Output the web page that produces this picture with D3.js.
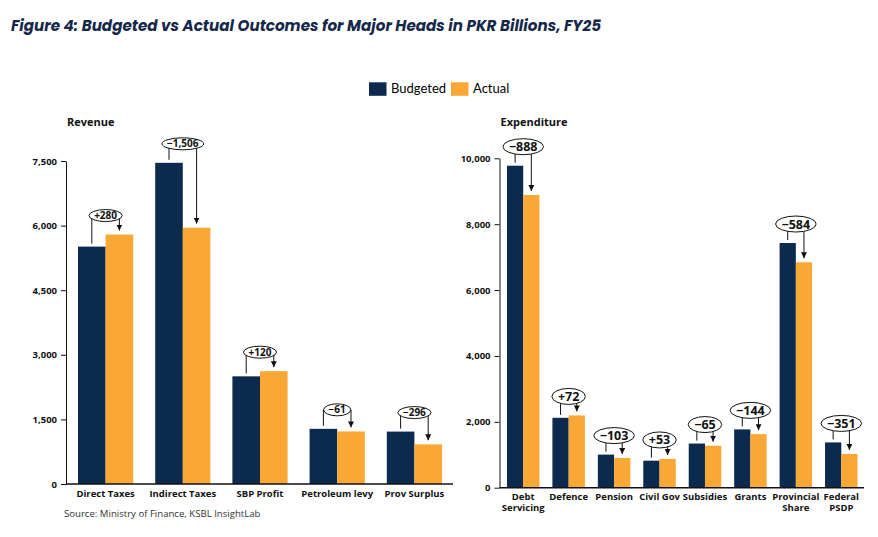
<!DOCTYPE html>
<html><head><meta charset="utf-8">
<script src="https://cdn.jsdelivr.net/npm/d3@7"></script>
<style>
body{margin:0;background:#fff;}
svg{display:block;font-family:"Open Sans",sans-serif;}
</style></head>
<body><svg id="c" width="878" height="537"></svg>
<script>
// ---- data ----
const revCategories = ["Direct Taxes","Indirect Taxes","SBP Profit","Petroleum levy","Prov Surplus"];
const revBudgeted = [5512, 7458, 2500, 1281, 1217];
const revActual   = [5792, 5952, 2620, 1220, 921];
const revTicks = [0, 1500, 3000, 4500, 6000, 7500];

const expCategories = ["Debt\nServicing","Defence","Pension","Civil Gov","Subsidies","Grants","Provincial\nShare","Federal\nPSDP"];
const expBudgeted = [9775, 2122, 1005, 820, 1340, 1770, 7428, 1375];
const expActual   = [8887, 2194, 902, 873, 1275, 1626, 6844, 1024];
const expTicks = [0, 2000, 4000, 6000, 8000, 10000];

const seriesNames = ["Budgeted","Actual"];
const colors = {Budgeted:"#0c2a4e", Actual:"#f9a836"};

const svg = d3.select("#c");
svg.append("rect").attr("width",878).attr("height",537).attr("fill","#fff");

svg.append("defs").append("marker").attr("id","arr")
  .attr("viewBox","0 0 10 10").attr("refX",10).attr("refY",5)
  .attr("markerWidth",6).attr("markerHeight",6).attr("markerUnits","userSpaceOnUse")
  .attr("orient","auto")
  .append("path").attr("d","M0,0L10,5L0,10Z").attr("fill","#111");

// title
svg.append("text").attr("x",11).attr("y",31)
  .attr("font-size",15.5).attr("font-weight",700).attr("font-style","italic")
  .attr("fill","#16284a").attr("font-family","Poppins, 'Open Sans', sans-serif")
  .attr("textLength",590).attr("lengthAdjust","spacingAndGlyphs")
  .text("Figure 4: Budgeted vs Actual Outcomes for Major Heads in PKR Billions, FY25");

// legend
const lg = svg.append("g").attr("font-family","Lato, sans-serif").attr("font-size",13);
const legendX = [369, 451];
seriesNames.forEach((s,i)=>{
  lg.append("rect").attr("x",legendX[i]).attr("y",82.3).attr("width",17.5).attr("height",13.5).attr("fill",colors[s]);
  lg.append("text").attr("x",legendX[i]+22).attr("y",93).attr("fill","#000").text(s);
});

// source
svg.append("text").attr("x",64).attr("y",517).attr("font-size",9.6).attr("fill","#333")
  .text("Source: Ministry of Finance, KSBL InsightLab");

function panel(opts){
  const {cats, bud, act, ticks, x0, x1, yTop, yBot, max, title, lblSize, padX, ry} = opts;
  const g = svg.append("g");
  const x = d3.scaleBand().domain(cats).range([x0,x1]).paddingInner(0.285).paddingOuter(0.1425);
  const xs = d3.scaleBand().domain(seriesNames).range([0,x.bandwidth()]);
  const y = d3.scaleLinear().domain([0,max]).range([yBot,yTop]);

  g.append("text").attr("x",x0).attr("y",126).attr("font-size",11).attr("font-weight",700)
    .attr("fill","#111").text(title);

  // y axis
  const ya = g.append("g").attr("transform",`translate(${x0-1},0)`)
    .call(d3.axisLeft(y).tickValues(ticks).tickFormat(d3.format(",")).tickSize(5).tickSizeOuter(0).tickPadding(4));
  ya.select(".domain").attr("stroke","#111").attr("stroke-width",1);
  ya.selectAll(".tick line").attr("stroke","#111");
  ya.selectAll(".tick text").attr("font-size",9.5).attr("font-weight",700).attr("fill","#111")
    .attr("font-family","'Open Sans',sans-serif");

  // bars
  const rows = cats.map((c,i)=>({c, Budgeted:bud[i], Actual:act[i]}));
  const gg = g.selectAll(".grp").data(rows).join("g").attr("transform",d=>`translate(${x(d.c)},0)`);
  gg.selectAll("rect").data(d=>seriesNames.map(s=>({s,v:d[s]}))).join("rect")
    .attr("x",d=>xs(d.s)).attr("width",xs.bandwidth())
    .attr("y",d=>y(d.v)).attr("height",d=>y(0)-y(d.v)).attr("fill",d=>colors[d.s]);

  // x axis
  const xa = g.append("g").attr("transform",`translate(0,${yBot})`)
    .call(d3.axisBottom(x).tickSize(0).tickSizeOuter(0).tickPadding(6));
  xa.select(".domain").attr("stroke","#111").attr("stroke-width",1.5)
    .attr("d",`M${x0-1},0H${x1}`);
  xa.selectAll(".tick text").attr("font-size",9.5).attr("font-weight",700).attr("fill","#111")
    .attr("font-family","'Open Sans',sans-serif")
    .each(function(d){
      const t = d3.select(this); const parts = d.split("\n");
      t.text(null);
      parts.forEach((p,k)=>t.append("tspan").attr("x",0).attr("dy",k===0?"0.71em":"1.08em").text(p));
    });

  // annotations
  const fmt = d3.format(",");
  rows.forEach(d=>{
    const bx = x(d.c)+xs("Budgeted")+xs.bandwidth()/2;
    const ax = x(d.c)+xs("Actual")+xs.bandwidth()/2;
    const yb = y(d.Budgeted), yaV = y(d.Actual);
    const lvl = Math.min(yb,yaV) - 19;
    const diff = d.Actual - d.Budgeted;
    const label = (diff>=0?"+":"\u2212")+fmt(Math.abs(diff));
    g.append("path").attr("d",`M${bx},${yb-3}V${lvl}H${ax}V${yaV-4}`)
      .attr("fill","none").attr("stroke","#111").attr("stroke-width",1).attr("marker-end","url(#arr)");
    const cx = (bx+ax)/2;
    const el = g.append("ellipse").attr("cx",cx).attr("cy",lvl).attr("fill","#fff").attr("stroke","#111").attr("stroke-width",1);
    const t = g.append("text").attr("x",cx).attr("y",lvl).attr("dy","0.36em").attr("text-anchor","middle")
      .attr("font-size",lblSize).attr("font-weight",700).attr("fill","#111").text(label);
    const bb = t.node().getBBox();
    el.attr("rx",bb.width/2+padX).attr("ry",ry);
  });
}

panel({cats:revCategories, bud:revBudgeted, act:revActual, ticks:revTicks,
  x0:67, x1:453, yTop:161, yBot:484, max:7500, title:"Revenue", lblSize:10, padX:5, ry:6});
panel({cats:expCategories, bud:expBudgeted, act:expActual, ticks:expTicks,
  x0:500.5, x1:864, yTop:158.3, yBot:487.7, max:10000, title:"Expenditure", lblSize:12.5, padX:6, ry:8});
</script></body></html>
